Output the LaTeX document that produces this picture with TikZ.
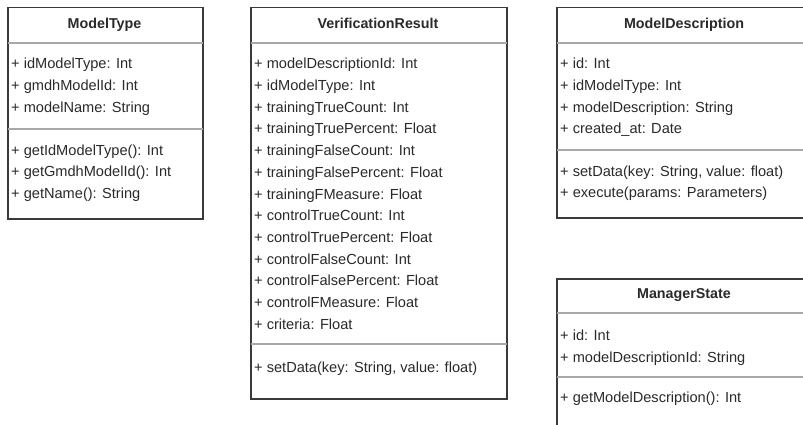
\documentclass[tikz,border=0pt]{standalone}
\usepackage{fontspec}
\setmainfont{Liberation Sans}
\definecolor{boxline}{HTML}{3A3A3A}
\definecolor{sepline}{HTML}{A8A8A8}
\definecolor{txt}{HTML}{2A2A2A}
\begin{document}
\begin{tikzpicture}[x=1pt,y=-1pt,
  classbox/.style={draw=boxline, line width=1.5pt, fill=white, rectangle, anchor=north west, inner sep=0pt},
  sepln/.style={draw=sepline, line width=1.2pt, shorten <=0.75pt, shorten >=0.75pt},
  ctitle/.style={font=\fontsize{14.3}{17}\selectfont\bfseries, text=txt, inner sep=0pt, anchor=base},
  citem/.style={font=\fontsize{14.6}{17}\selectfont, text=txt, inner sep=0pt, anchor=base west}]
\useasboundingbox (0,0) rectangle (803,425);
\clip (0,0) rectangle (803,425);
\fill[white] (0,0) rectangle (803,425);

% ModelType
\node[classbox, minimum width=195pt, minimum height=211pt] (mt) at (7,7) {};
\coordinate (mts1) at (0,43);
\coordinate (mts2) at (0,129);
\draw[sepln] (mt.west |- mts1) -- (mt.east |- mts1);
\draw[sepln] (mt.west |- mts2) -- (mt.east |- mts2);
\node[ctitle] (mtT) at (104.5,29) {ModelType};
\node[citem] (mta1) at (11,69) {+ idModelType: Int};
\node[citem] (mta2) at (11,90.7) {+ gmdhModelId: Int};
\node[citem] (mta3) at (11,112.3) {+ modelName: String};
\node[citem] (mtm1) at (11,155) {+ getIdModelType(): Int};
\node[citem] (mtm2) at (11,176.7) {+ getGmdhModelId(): Int};
\node[citem] (mtm3) at (11,198.3) {+ getName(): String};

% VerificationResult
\node[classbox, minimum width=256pt, minimum height=391pt] (vr) at (250,7) {};
\coordinate (vrs1) at (0,43);
\coordinate (vrs2) at (0,344);
\draw[sepln] (vr.west |- vrs1) -- (vr.east |- vrs1);
\draw[sepln] (vr.west |- vrs2) -- (vr.east |- vrs2);
\node[ctitle] (vrT) at (378,29) {VerificationResult};
\node[citem] (vra1) at (254,69) {+ modelDescriptionId: Int};
\node[citem] (vra2) at (254,90.7) {+ idModelType: Int};
\node[citem] (vra3) at (254,112.3) {+ trainingTrueCount: Int};
\node[citem] (vra4) at (254,134) {+ trainingTruePercent: Float};
\node[citem] (vra5) at (254,155.7) {+ trainingFalseCount: Int};
\node[citem] (vra6) at (254,177.3) {+ trainingFalsePercent: Float};
\node[citem] (vra7) at (254,199) {+ trainingFMeasure: Float};
\node[citem] (vra8) at (254,220.7) {+ controlTrueCount: Int};
\node[citem] (vra9) at (254,242.3) {+ controlTruePercent: Float};
\node[citem] (vra10) at (254,264) {+ controlFalseCount: Int};
\node[citem] (vra11) at (254,285.7) {+ controlFalsePercent: Float};
\node[citem] (vra12) at (254,307.3) {+ controlFMeasure: Float};
\node[citem] (vra13) at (254,329) {+ criteria: Float};
\node[citem] (vrm1) at (254,372) {+ setData(key: String, value: float)};

% ModelDescription
\node[classbox, minimum width=256pt, minimum height=210pt] (md) at (556,7) {};
\coordinate (mds1) at (0,43);
\coordinate (mds2) at (0,150);
\draw[sepln] (md.west |- mds1) -- (md.east |- mds1);
\draw[sepln] (md.west |- mds2) -- (md.east |- mds2);
\node[ctitle] (mdT) at (684,29) {ModelDescription};
\node[citem] (mda1) at (560,69) {+ id: Int};
\node[citem] (mda2) at (560,90.7) {+ idModelType: Int};
\node[citem] (mda3) at (560,112.3) {+ modelDescription: String};
\node[citem] (mda4) at (560,134) {+ created\_at: Date};
\node[citem] (mdm1) at (560,176) {+ setData(key: String, value: float)};
\node[citem] (mdm2) at (560,197) {+ execute(params: Parameters)};

% ManagerState
\node[classbox, minimum width=256pt, minimum height=170pt] (ms) at (556,278) {};
\coordinate (mss1) at (0,313);
\coordinate (mss2) at (0,377);
\draw[sepln] (ms.west |- mss1) -- (ms.east |- mss1);
\draw[sepln] (ms.west |- mss2) -- (ms.east |- mss2);
\node[ctitle] (msT) at (684,298) {ManagerState};
\node[citem] (msa1) at (560,340) {+ id: Int};
\node[citem] (msa2) at (560,362) {+ modelDescriptionId: String};
\node[citem] (msm1) at (560,402) {+ getModelDescription(): Int};
\end{tikzpicture}
\end{document}
